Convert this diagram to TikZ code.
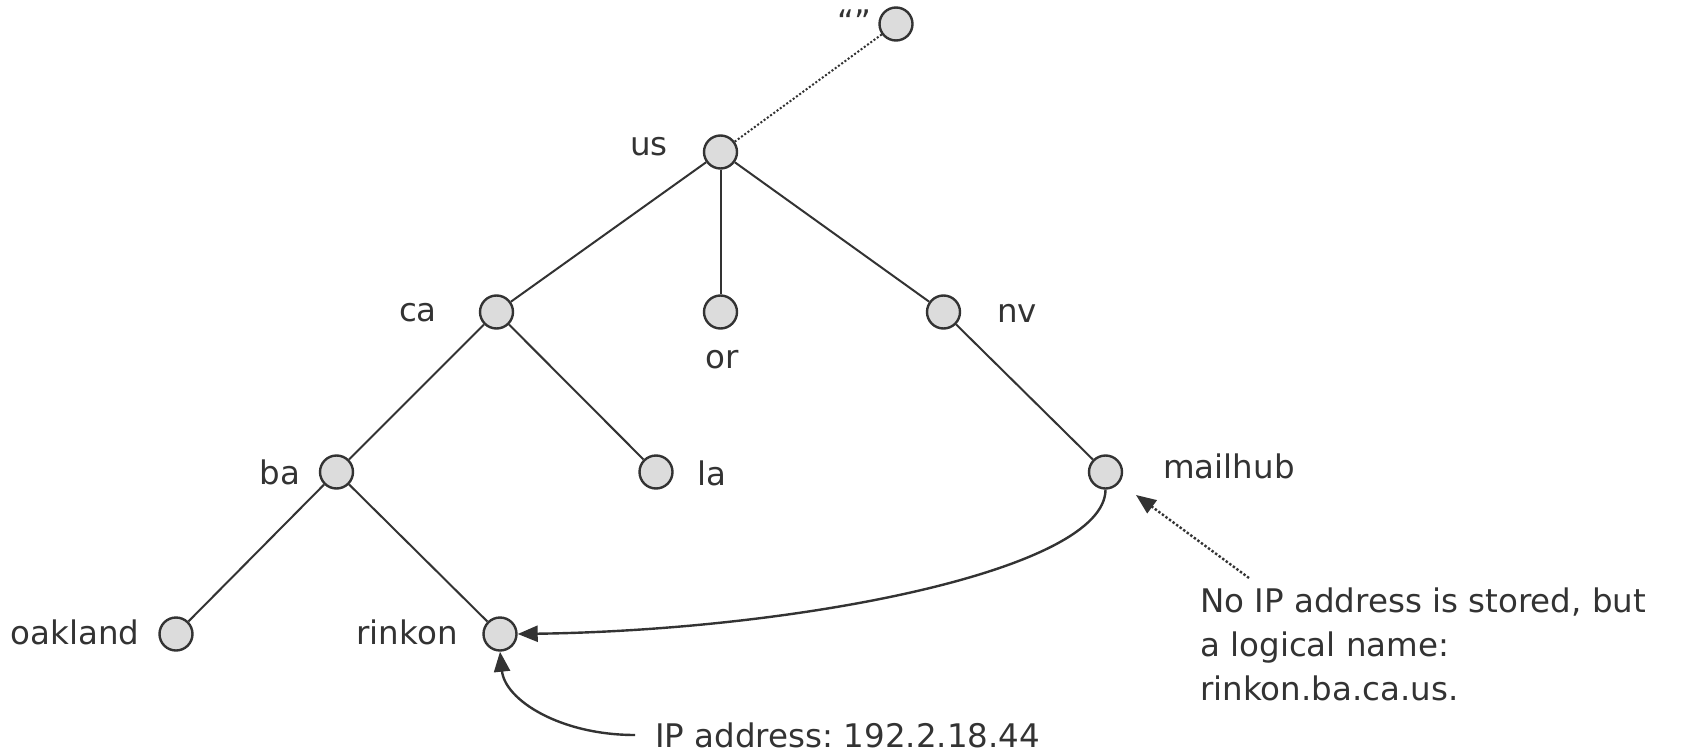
\documentclass[tikz,border=0pt]{standalone}
\usepackage{fontspec}
\setmainfont{DejaVu Sans}
\usetikzlibrary{arrows.meta}
\definecolor{ink}{HTML}{333333}
\definecolor{nodefill}{HTML}{DCDCDC}
\begin{document}
\frenchspacing
\begin{tikzpicture}[x=1pt,y=-1pt,
  dn/.style={circle,draw=ink,fill=nodefill,line width=2.4pt,minimum size=33pt,inner sep=0pt},
  lbl/.style={text=ink,font=\fontsize{32.5}{44}\selectfont,inner sep=0pt},
  edge/.style={draw=ink,line width=2pt},
  dotline/.style={draw=ink,line width=2pt,dotted},
  arr/.style={draw=ink,line width=2.4pt,-{Triangle[length=20pt,width=16pt]}}]
\useasboundingbox (0,0) rectangle (1681,752);
% nodes
\node[dn] (root) at (896,24) {};
\node[dn] (us) at (720.5,152) {};
\node[dn] (ca) at (496.5,312) {};
\node[dn] (or) at (720.5,312) {};
\node[dn] (nv) at (943.5,312) {};
\node[dn] (ba) at (336.5,472) {};
\node[dn] (la) at (656,472) {};
\node[dn] (mh) at (1105.5,472) {};
\node[dn] (oak) at (176,634) {};
\node[dn] (rk) at (500,634) {};
% labels
\node[lbl] (lroot) at (854,22) {“”};
\node[lbl] (lus) at (649,147) {us};
\node[lbl] (lca) at (418,313) {ca};
\node[lbl] (lor) at (722,360) {or};
\node[lbl] (lnv) at (1017,313) {nv};
\node[lbl] (lba) at (280,472) {ba};
\node[lbl] (lla) at (712,473) {la};
\node[lbl] (lmh) at (1229,466) {mailhub};
\node[lbl] (loak) at (75,632) {oakland};
\node[lbl] (lrk) at (407,632) {rinkon};
\node[lbl,anchor=west] (ip) at (655,735) {IP address: 192.2.18.44};
\node[lbl,anchor=west,align=left] (note) at (1200,644) {No IP address is stored, but\\a logical name:\\rinkon.ba.ca.us.};
\coordinate (noteStart) at (1249,578);
\coordinate (noteTip) at (1136,495);
% edges
\draw[dotline] (root) -- (us);
\draw[edge] (us) -- (ca);
\draw[edge] (us) -- (or);
\draw[edge] (us) -- (nv);
\draw[edge] (ca) -- (ba);
\draw[edge] (ca) -- (la);
\draw[edge] (nv) -- (mh);
\draw[edge] (ba) -- (oak);
\draw[edge] (ba) -- (rk);
% arrows
\draw[arr] (mh.south) .. controls (1105,570) and (800,630) .. (rk.east);
\draw[arr] (ip.west) ++(-20,0) coordinate (ipStart) .. controls (560,735) and (505,700) .. (rk.south);
\draw[arr,dotted] (noteStart) -- (noteTip);
\end{tikzpicture}
\end{document}
